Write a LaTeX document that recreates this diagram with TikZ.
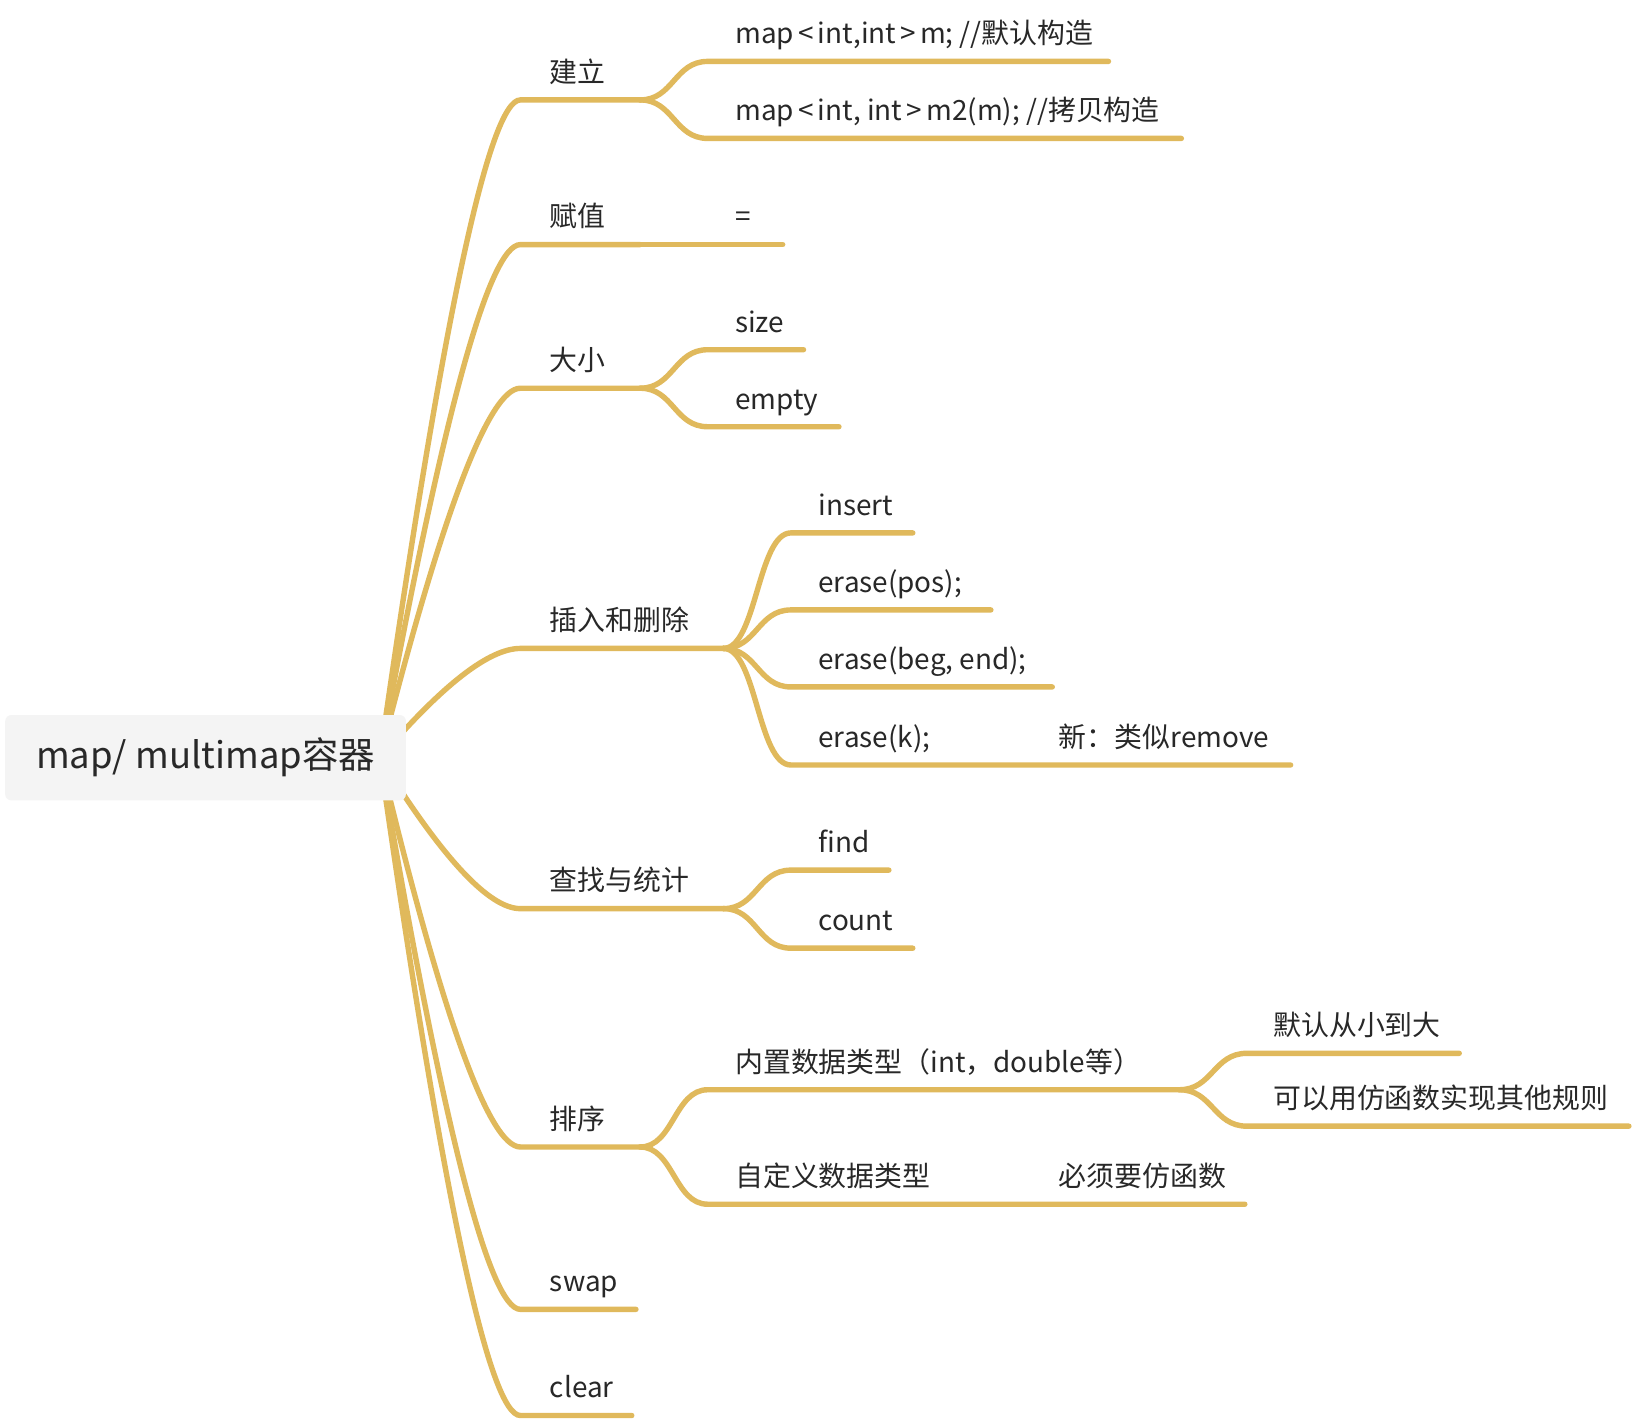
\documentclass[tikz,border=0pt]{standalone}
\usepackage{fontspec}
\setmainfont{Noto Sans CJK SC}
\definecolor{gold}{RGB}{224,185,92}
\definecolor{txt}{RGB}{40,40,40}
\definecolor{rootfill}{RGB}{244,244,244}
\newcommand{\lt}{\kern2pt<\kern2pt}
\newcommand{\gt}{\kern2pt>\kern2pt}
\begin{document}
\begin{tikzpicture}[x=0.5pt,y=-0.5pt,
  br/.style={draw=gold,line width=2.6pt,line cap=round},
  lbl/.style={anchor=base west,inner sep=0pt,text=txt,font=\fontsize{13.4}{16}\selectfont},
  rootbox/.style={fill=rootfill,rounded corners=3pt,minimum width=192.5pt,minimum height=41pt,inner sep=0pt,text=txt,font=\fontsize{17.5}{21}\selectfont}]
\fill[white] (0,0) rectangle (1568,1364);
\useasboundingbox (0,0) rectangle (1568,1364);

% ---------- coordinates ----------
\coordinate (r0) at (365,728);
% level 1 starts / junctions
\coordinate (a1) at (500,96);   \coordinate (j1) at (615,96);
\coordinate (a2) at (500,235);  \coordinate (j2) at (615,235);
\coordinate (a3) at (500,373);  \coordinate (j3) at (615,373);
\coordinate (a4) at (500,623);  \coordinate (j4) at (695,623);
\coordinate (a5) at (500,873);  \coordinate (j5) at (695,873);
\coordinate (a6) at (500,1102); \coordinate (j6) at (615,1102);
\coordinate (a7) at (500,1258); \coordinate (e7) at (611,1258);
\coordinate (a8) at (500,1360); \coordinate (e8) at (607,1360);

% ---------- level 1 branches ----------
\draw[br] (r0) .. controls (425,306.7) and (470,96) .. (a1) -- (j1);
\draw[br] (r0) .. controls (425,399.3) and (470,235) .. (a2) -- (j2);
\draw[br] (r0) .. controls (425,491.3) and (470,373) .. (a3) -- (j3);
\draw[br] (r0) .. controls (425,658) and (470,623) .. (a4) -- (j4);
\draw[br] (r0) .. controls (425,824.7) and (470,873) .. (a5) -- (j5);
\draw[br] (r0) .. controls (425,977.3) and (470,1102) .. (a6) -- (j6);
\draw[br] (r0) .. controls (425,1081.3) and (470,1258) .. (a7) -- (e7);
\draw[br] (r0) .. controls (425,1149.3) and (470,1360) .. (a8) -- (e8);

% ---------- 建立 children ----------
\coordinate (b11) at (680,59);  \coordinate (e11) at (1065,59);
\coordinate (b12) at (680,133); \coordinate (e12) at (1135,133);
\draw[br] (j1) .. controls +(32,0) and +(-32,0) .. (b11) -- (e11);
\draw[br] (j1) .. controls +(32,0) and +(-32,0) .. (b12) -- (e12);

% ---------- 赋值 child ----------
\coordinate (e21) at (752,235);
\draw[br] (j2) -- (e21);

% ---------- 大小 children ----------
\coordinate (b31) at (680,336); \coordinate (e31) at (772,336);
\coordinate (b32) at (680,410); \coordinate (e32) at (806,410);
\draw[br] (j3) .. controls +(32,0) and +(-32,0) .. (b31) -- (e31);
\draw[br] (j3) .. controls +(32,0) and +(-32,0) .. (b32) -- (e32);

% ---------- 插入和删除 children ----------
\coordinate (b41) at (760,512); \coordinate (e41) at (877,512);
\coordinate (b42) at (760,586); \coordinate (e42) at (952,586);
\coordinate (b43) at (760,660); \coordinate (e43) at (1011,660);
\coordinate (b44) at (760,735); \coordinate (j44) at (990,735); \coordinate (e44) at (1240,735);
\draw[br] (j4) .. controls +(32,0) and +(-32,0) .. (b41) -- (e41);
\draw[br] (j4) .. controls +(32,0) and +(-32,0) .. (b42) -- (e42);
\draw[br] (j4) .. controls +(32,0) and +(-32,0) .. (b43) -- (e43);
\draw[br] (j4) .. controls +(32,0) and +(-32,0) .. (b44) -- (j44) -- (e44);

% ---------- 查找与统计 children ----------
\coordinate (b51) at (760,836); \coordinate (e51) at (854,836);
\coordinate (b52) at (760,911); \coordinate (e52) at (877,911);
\draw[br] (j5) .. controls +(32,0) and +(-32,0) .. (b51) -- (e51);
\draw[br] (j5) .. controls +(32,0) and +(-32,0) .. (b52) -- (e52);

% ---------- 排序 children ----------
\coordinate (b61) at (680,1047); \coordinate (j61) at (1133,1047);
\coordinate (b62) at (680,1157); \coordinate (j62) at (990,1157); \coordinate (e62) at (1196,1157);
\draw[br] (j6) .. controls +(32,0) and +(-32,0) .. (b61) -- (j61);
\draw[br] (j6) .. controls +(32,0) and +(-32,0) .. (b62) -- (j62) -- (e62);
\coordinate (b611) at (1198,1012); \coordinate (e611) at (1402,1012);
\coordinate (b612) at (1198,1082); \coordinate (e612) at (1565,1082);
\draw[br] (j61) .. controls +(32,0) and +(-32,0) .. (b611) -- (e611);
\draw[br] (j61) .. controls +(32,0) and +(-32,0) .. (b612) -- (e612);

% ---------- root ----------
\node[rootbox] (root) at (197.5,728) {map/ multimap容器};

% ---------- labels ----------
\node[lbl] (n1) at (528,79) {建立};
\node[lbl] (n11) at (706,42) {map\lt int,int\gt m; //默认构造};
\node[lbl] (n12) at (706,116) {map\lt int, int\gt m2(m); //拷贝构造};
\node[lbl] (n2) at (528,218) {赋值};
\node[lbl] (n21) at (706,218) {=};
\node[lbl] (n3) at (528,356) {大小};
\node[lbl] (n31) at (706,319) {size};
\node[lbl] (n32) at (706,393) {empty};
\node[lbl] (n4) at (528,606) {插入和删除};
\node[lbl] (n41) at (786,495) {insert};
\node[lbl] (n42) at (786,569) {erase(pos);};
\node[lbl] (n43) at (786,643) {erase(beg, end);};
\node[lbl] (n44) at (786,718) {erase(k);};
\node[lbl] (n441) at (1017,718) {新：类似remove};
\node[lbl] (n5) at (528,856) {查找与统计};
\node[lbl] (n51) at (786,819) {find};
\node[lbl] (n52) at (786,894) {count};
\node[lbl] (n6) at (528,1085) {排序};
\node[lbl] (n61) at (706,1030) {内置数据类型（int，double等）};
\node[lbl] (n611) at (1223,995) {默认从小到大};
\node[lbl] (n612) at (1223,1065) {可以用仿函数实现其他规则};
\node[lbl] (n62) at (706,1140) {自定义数据类型};
\node[lbl] (n621) at (1017,1140) {必须要仿函数};
\node[lbl] (n7) at (528,1241) {swap};
\node[lbl] (n8) at (528,1343) {clear};
\end{tikzpicture}
\end{document}
